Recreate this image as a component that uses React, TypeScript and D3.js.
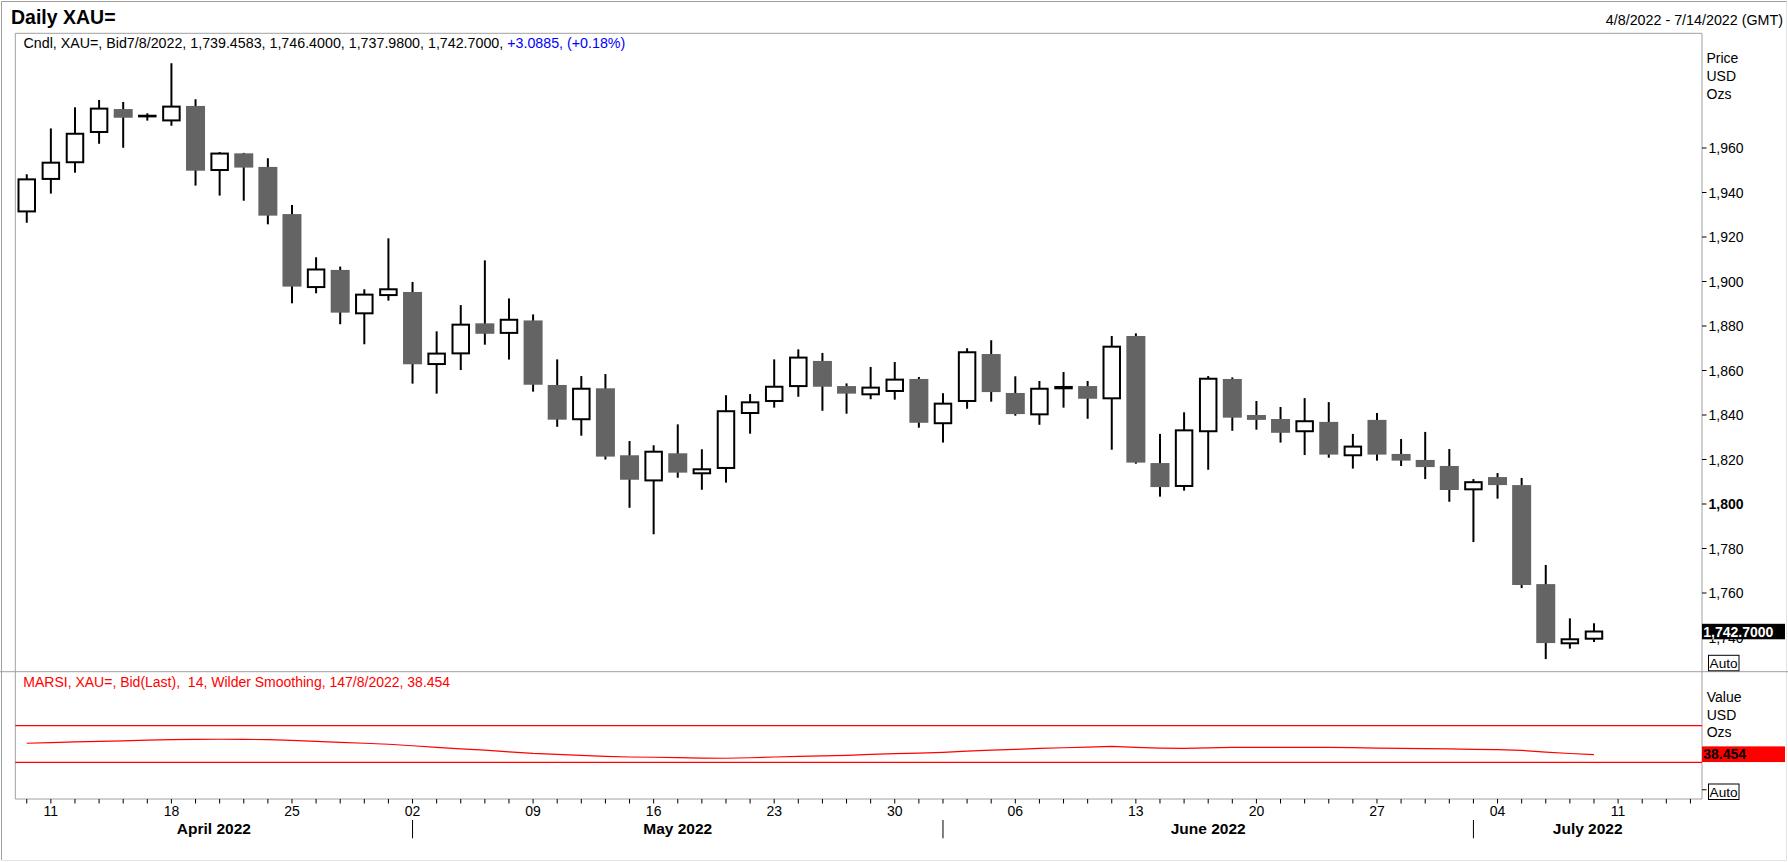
import React, { useEffect, useRef } from 'react';
import * as d3 from 'd3';

// daily XAU= candles, 4/8/2022 .. 7/8/2022
const opens = [
  1931.5, 1946.1, 1953.6, 1967.2, 1977.5, 1974.2, 1972.4, 1978.9, 1950.1, 1957.6,
  1951.5, 1930.3, 1897.5, 1905.2, 1885.7, 1893.9, 1895.3, 1862.9, 1867.7, 1881.2,
  1876.9, 1882.5, 1853.5, 1838.1, 1852.0, 1821.9, 1810.6, 1822.8, 1813.8, 1816.2,
  1840.9, 1846.3, 1853.0, 1864.3, 1853.0, 1849.3, 1850.8, 1856.2, 1836.3, 1846.3,
  1867.4, 1849.9, 1840.3, 1852.0, 1853.0, 1847.5, 1875.5, 1818.4, 1808.1, 1832.7,
  1856.2, 1840.0, 1838.2, 1832.7, 1836.9, 1821.9, 1837.8, 1822.5, 1819.8, 1817.1,
  1806.6, 1812.1, 1808.5, 1764.0, 1737.4, 1739.4583,
];
const highs = [
  1948.2, 1968.8, 1978.3, 1981.6, 1980.7, 1975.6, 1998.1, 1981.9, 1958.2, 1957.8,
  1955.4, 1934.4, 1910.9, 1906.7, 1896.5, 1919.4, 1899.8, 1877.6, 1889.4, 1909.5,
  1892.4, 1885.2, 1865.0, 1857.5, 1858.4, 1828.3, 1826.4, 1835.8, 1824.6, 1848.9,
  1849.4, 1865.0, 1869.5, 1867.9, 1854.2, 1861.6, 1863.8, 1857.1, 1849.8, 1870.0,
  1873.6, 1857.4, 1855.3, 1859.3, 1855.3, 1875.5, 1876.7, 1831.5, 1841.2, 1857.5,
  1856.9, 1846.3, 1843.6, 1847.6, 1845.8, 1831.5, 1840.9, 1829.2, 1832.4, 1824.7,
  1811.2, 1813.9, 1811.7, 1772.6, 1748.6, 1746.4,
];
const lows = [
  1926.4, 1939.5, 1948.9, 1961.9, 1960.1, 1972.3, 1970.0, 1943.1, 1938.6, 1936.3,
  1925.7, 1890.2, 1894.7, 1880.8, 1871.8, 1891.4, 1854.1, 1849.6, 1860.2, 1871.6,
  1864.9, 1850.5, 1834.7, 1830.7, 1820.0, 1798.3, 1786.4, 1811.8, 1806.4, 1809.6,
  1831.6, 1843.3, 1848.2, 1841.9, 1840.6, 1847.1, 1846.9, 1834.3, 1827.6, 1842.8,
  1846.0, 1839.7, 1835.6, 1843.3, 1838.3, 1824.4, 1818.1, 1803.3, 1806.0, 1815.4,
  1832.9, 1833.4, 1827.6, 1822.0, 1820.8, 1815.9, 1819.5, 1817.1, 1811.2, 1801.0,
  1782.9, 1802.4, 1762.2, 1730.3, 1735.0, 1737.98,
];
const closes = [
  1945.9, 1953.4, 1966.4, 1977.7, 1973.6, 1974.5, 1978.6, 1949.8, 1957.5, 1951.2,
  1929.6, 1897.7, 1905.4, 1886.0, 1894.1, 1896.5, 1862.8, 1867.6, 1880.6, 1876.5,
  1882.8, 1853.6, 1837.9, 1851.8, 1821.3, 1810.9, 1823.5, 1814.1, 1815.6, 1841.7,
  1845.7, 1852.7, 1865.8, 1852.7, 1849.6, 1852.3, 1855.9, 1836.5, 1845.1, 1868.2,
  1850.3, 1840.4, 1851.8, 1852.6, 1847.3, 1870.7, 1818.6, 1807.6, 1833.1, 1856.3,
  1838.8, 1837.8, 1832.0, 1837.2, 1822.2, 1825.8, 1822.2, 1819.5, 1816.6, 1806.3,
  1809.8, 1808.5, 1763.6, 1737.5, 1739.2, 1742.7,
];
// MARSI 14, Wilder smoothing
const marsi = [
  50.8, 51.6, 52.3, 52.9, 53.5, 54.3, 54.8, 55.1, 55.2, 55.1,
  54.7, 54.0, 52.9, 51.8, 50.8, 49.7, 48.1, 46.3, 44.6, 43.3,
  41.5, 39.8, 38.7, 37.6, 36.5, 35.8, 35.5, 35.2, 34.6, 34.4,
  35.0, 35.8, 36.5, 37.0, 37.6, 38.7, 39.4, 40.0, 40.9, 42.3,
  43.4, 44.2, 45.2, 45.9, 46.5, 47.5, 46.4, 45.6, 45.3, 45.8,
  46.4, 46.4, 46.4, 46.4, 46.3, 46.0, 45.5, 45.3, 45.0, 44.6,
  44.2, 43.8, 43.0, 41.2, 39.6, 38.454,
];
const marsiBands = [70, 30];
const priceTicks = [1740, 1760, 1780, 1800, 1820, 1840, 1860, 1880, 1900, 1920, 1940, 1960];
const priceUnits = ['Price', 'USD', 'Ozs'];
const valueUnits = ['Value', 'USD', 'Ozs'];

const startDate = new Date(2022, 3, 8);
const endDate = new Date(2022, 6, 15);

const FONT = '"Liberation Sans", Arial, sans-serif';
const GRID = '#a0a0a0';
const DOWN = '#646464';
const FS = 14;

const App: React.FC = () => {
  const svgRef = useRef<SVGSVGElement>(null);

  useEffect(() => {
    if (!svgRef.current) return;
    const svg = d3.select(svgRef.current);
    svg.selectAll('*').remove();

    const width = 1788;
    const height = 862;
    const left = 15.3;
    const right = 1702;
    const top = 33.3;
    const split = 671.7;
    const bottom = 799;

    // trading days (weekdays) incl. the empty days to the right edge
    const days = d3.timeDays(startDate, endDate).filter(d => d.getDay() !== 0 && d.getDay() !== 6);

    const x = d3.scaleLinear().domain([-0.475, days.length - 0.52]).range([left, right]);
    const y = d3.scaleLinear().domain([1800, 1960]).range([504, 148]);
    const yr = d3.scaleLinear().domain([30, 70]).range([762.3, 725.7]);

    // outer border
    svg.append('rect').attr('width', width).attr('height', height).attr('fill', '#fff');
    svg.append('path').attr('d', `M1.5,${height - 2}V1.5H${width - 1}`).attr('fill', 'none').attr('stroke', GRID);
    svg.append('path').attr('d', `M1.5,${height - 1.5}H${width - 1.5}V1.5`).attr('fill', 'none').attr('stroke', '#e3e3e3');

    // panel frames
    const frame = svg.append('g').attr('stroke', GRID).attr('fill', 'none');
    frame.append('path').attr('d', `M${left},${bottom}V${top}H${right}V${bottom}H${left}`);
    frame.append('line').attr('x1', 0).attr('x2', width).attr('y1', split).attr('y2', split);

    // header texts
    svg.append('text').attr('x', 11).attr('y', 24).attr('font-family', FONT)
      .attr('font-size', 19.5).attr('font-weight', 'bold').text('Daily XAU=');
    svg.append('text').attr('x', width - 5).attr('y', 25).attr('font-family', FONT)
      .attr('font-size', 14.3).attr('text-anchor', 'end').text('4/8/2022 - 7/14/2022 (GMT)');

    const last = opens.length - 1;
    const fmt = d3.format(',.4f');
    const chg = closes[last] - 1739.6115;
    const info = svg.append('text').attr('x', 23.5).attr('y', 47.5)
      .attr('font-family', FONT).attr('font-size', 14.25);
    info.append('tspan')
      .text(`Cndl, XAU=, Bid7/8/2022, ${fmt(opens[last])}, ${fmt(highs[last])}, ${fmt(lows[last])}, ${fmt(closes[last])}, `);
    info.append('tspan').attr('fill', '#0000ff')
      .text(`+${chg.toFixed(4)}, (+${(chg / 1739.6115 * 100).toFixed(2)}%)`);

    // candles
    const idx = d3.range(opens.length);
    const wicks = svg.append('g').attr('stroke', '#000').attr('stroke-width', 2);
    wicks.selectAll('line').data(idx).enter().append('line')
      .attr('x1', i => x(i)).attr('x2', i => x(i))
      .attr('y1', i => y(highs[i])).attr('y2', i => y(lows[i]));

    const bodies = svg.append('g');
    bodies.selectAll('rect').data(idx).enter().append('rect')
      .attr('x', i => closes[i] >= opens[i] ? x(i) - 8.25 : x(i) - 9.5)
      .attr('width', i => closes[i] >= opens[i] ? 16.5 : 19)
      .attr('y', i => y(Math.max(opens[i], closes[i])))
      .attr('height', i => Math.max(0.5, Math.abs(y(opens[i]) - y(closes[i]))))
      .attr('fill', i => closes[i] >= opens[i] ? '#fff' : DOWN)
      .attr('stroke', i => closes[i] >= opens[i] ? '#000' : 'none')
      .attr('stroke-width', 2);

    // price axis
    const pa = svg.append('g').attr('font-family', FONT).attr('font-size', FS);
    pa.selectAll('line').data(priceTicks).enter().append('line')
      .attr('x1', right).attr('x2', right + 4.5)
      .attr('y1', d => y(d)).attr('y2', d => y(d)).attr('stroke', '#000');
    pa.selectAll('text.tick').data(priceTicks).enter().append('text')
      .attr('class', 'tick')
      .attr('x', right + 6.5).attr('y', d => y(d)).attr('dy', '0.36em')
      .attr('font-weight', d => d === 1800 ? 'bold' : 'normal')
      .text(d => d3.format(',')(d));
    pa.selectAll('text.unit').data(priceUnits).enter().append('text')
      .attr('class', 'unit').attr('x', right + 4.5).attr('y', (_, i) => 63 + i * 18).text(d => d);

    // last price marker
    const lp = y(closes[last]);
    svg.append('rect').attr('x', right).attr('y', lp - 7.7).attr('width', 83).attr('height', 15.5).attr('fill', '#000');
    svg.append('text').attr('x', right + 1.3).attr('y', lp + 5.2).attr('font-family', FONT)
      .attr('font-size', FS).attr('font-weight', 'bold').attr('fill', '#fff').text(fmt(closes[last]));

    const autoBox = (by: number) => {
      svg.append('rect').attr('x', 1708.5).attr('y', by).attr('width', 30.5).attr('height', 15.5)
        .attr('fill', '#fff').attr('stroke', '#000');
      svg.append('text').attr('x', 1709.6).attr('y', by + 12.6).attr('font-family', FONT)
        .attr('font-size', 13.6).text('Auto');
    };
    autoBox(655.3);

    // MARSI panel
    svg.append('text').attr('x', 23.3).attr('y', 686.7).attr('font-family', FONT)
      .attr('font-size', FS).attr('fill', '#ff0000').attr('xml:space', 'preserve')
      .text(`MARSI, XAU=, Bid(Last),  14, Wilder Smoothing, 147/8/2022, ${marsi[last]}`);
    svg.append('g').selectAll('line').data(marsiBands).enter().append('line')
      .attr('x1', left).attr('x2', right).attr('y1', d => yr(d)).attr('y2', d => yr(d))
      .attr('stroke', '#ff0000').attr('stroke-width', 1.2);
    const line = d3.line<number>().x((_, i) => x(i)).y(d => yr(d));
    svg.append('path').attr('d', line(marsi)).attr('fill', 'none')
      .attr('stroke', '#ff0000').attr('stroke-width', 1.2);

    svg.append('g').attr('font-family', FONT).attr('font-size', FS)
      .selectAll('text').data(valueUnits).enter().append('text')
      .attr('x', right + 4.7).attr('y', (_, i) => 701.7 + i * 17.8).text(d => d);
    const ly = yr(marsi[last]);
    svg.append('rect').attr('x', right).attr('y', ly - 8.2).attr('width', 83).attr('height', 15.7).attr('fill', '#ff0000');
    svg.append('text').attr('x', right + 1.3).attr('y', ly + 4.9).attr('font-family', FONT)
      .attr('font-size', FS).attr('font-weight', 'bold').attr('fill', '#000').text(marsi[last].toFixed(3));
    svg.append('line').attr('x1', right).attr('x2', right + 4.5).attr('y1', yr(0)).attr('y2', yr(0)).attr('stroke', '#000');
    autoBox(784);

    // date axis
    const da = svg.append('g').attr('font-family', FONT).attr('font-size', FS);
    da.selectAll('line').data(days).enter().append('line')
      .attr('x1', (_, i) => x(i)).attr('x2', (_, i) => x(i))
      .attr('y1', bottom).attr('y2', bottom + 4.5).attr('stroke', '#000');
    const mondays = days.map((d, i) => ({ d, i })).filter(o => o.d.getDay() === 1);
    da.selectAll('text.day').data(mondays).enter().append('text')
      .attr('class', 'day').attr('x', o => x(o.i)).attr('y', 816).attr('text-anchor', 'middle')
      .text(o => d3.timeFormat('%d')(o.d));

    const starts = days.map((d, i) => ({ d, i })).filter((o, k, arr) => k > 0 && o.d.getMonth() !== arr[k - 1].d.getMonth());
    da.selectAll('line.sep').data(starts).enter().append('line')
      .attr('class', 'sep').attr('x1', o => x(o.i)).attr('x2', o => x(o.i))
      .attr('y1', 820).attr('y2', 838.3).attr('stroke', '#000');
    const edges = [left, ...starts.map(o => x(o.i)), right];
    const months = [days[0], ...starts.map(o => o.d)];
    da.selectAll('text.month').data(months).enter().append('text')
      .attr('class', 'month')
      .attr('x', (_, k) => (edges[k] + edges[k + 1]) / 2).attr('y', 834)
      .attr('text-anchor', 'middle').attr('font-size', 15.5).attr('font-weight', 'bold')
      .text(d => d3.timeFormat('%B %Y')(d));
  }, []);

  return (
    <svg
      ref={svgRef}
      width={1788}
      height={862}
      style={{ position: 'absolute', left: 0, top: 0 }}
    />
  );
};

export default App;
